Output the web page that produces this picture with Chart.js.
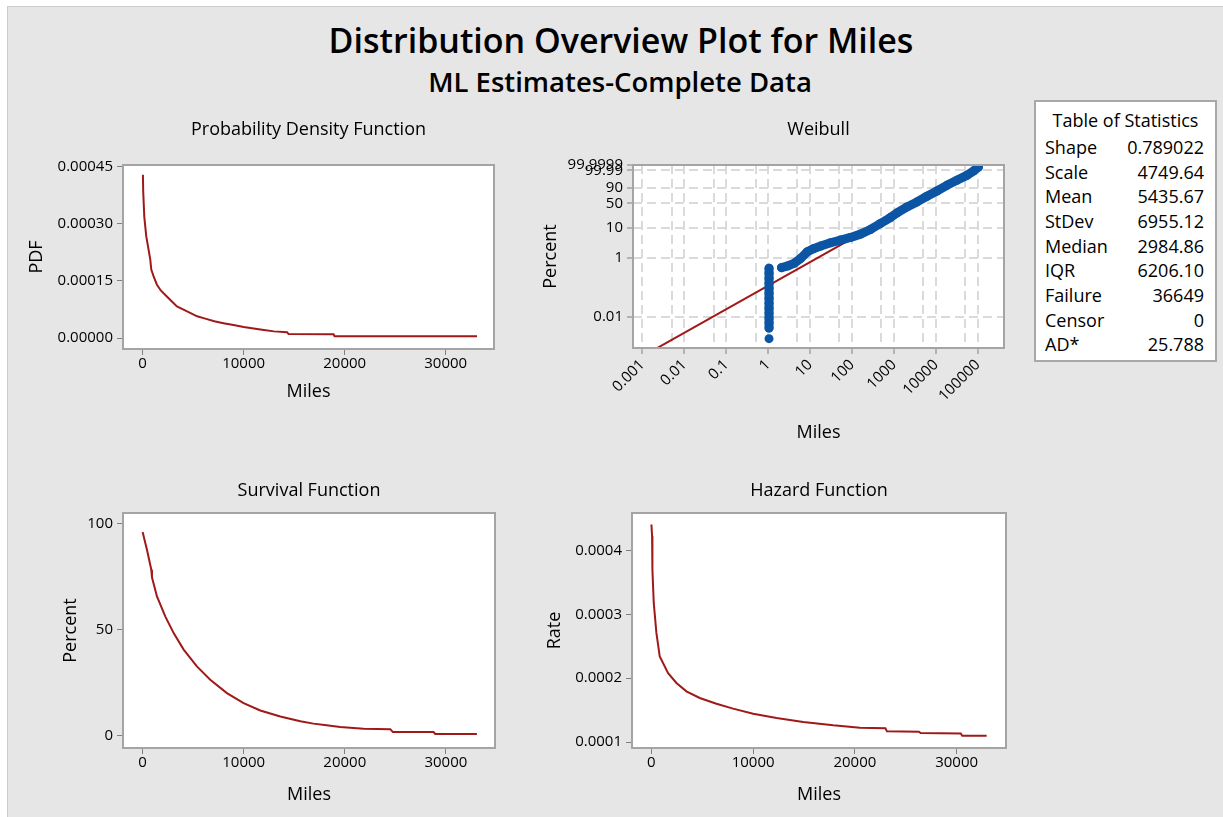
<!DOCTYPE html>
<html>
<head>
<meta charset="utf-8">
<title>Distribution Overview Plot for Miles</title>
<script src="https://cdn.jsdelivr.net/npm/chart.js@4.4.1/dist/chart.umd.min.js"></script>
<style>
  html, body { margin: 0; padding: 0; background: #fff; width: 1223px; height: 817px; overflow: hidden; }
  body { font-family: 'Open Sans', 'Noto Sans', sans-serif; color: #000; position: relative; }
  #sheet { position: absolute; left: 7px; top: 6px; width: 1216px; height: 811px; background: #e6e6e6;
           border-left: 1px solid #cccccc; border-top: 1px solid #cccccc; box-sizing: border-box; }
  .cv { position: absolute; }
  #title { position: absolute; left: 0; width: 1242px; top: 18px; line-height: 44px; text-align: center;
           font-size: 34px; font-weight: 600; }
  #subtitle { position: absolute; left: 0; width: 1240px; top: 65px; line-height: 34px; text-align: center;
              font-size: 27.5px; font-weight: 600; }
  #stats { position: absolute; left: 1034px; top: 100px; width: 183px; height: 262px; background: #fff;
           border: 2px solid #a8a8a8; box-sizing: border-box; font-size: 18px; }
  #stats .head { position: absolute; left: 0; width: 100%; top: 7px; line-height: 22px; text-align: center; }
  #stats .row { position: absolute; left: 9px; right: 11px; height: 22px; line-height: 22px; }
  #stats .row span:last-child { position: absolute; right: 0; }
</style>
</head>
<body>
<div id="sheet"></div>
<div id="title">Distribution Overview Plot for Miles</div>
<div id="subtitle">ML Estimates-Complete Data</div>

<canvas id="pdf" class="cv" width="480" height="300" style="left:20px;top:110px;width:480px;height:300px"></canvas>
<canvas id="wbl" class="cv" width="480" height="340" style="left:530px;top:110px;width:480px;height:340px"></canvas>
<canvas id="surv" class="cv" width="480" height="340" style="left:20px;top:470px;width:480px;height:340px"></canvas>
<canvas id="haz" class="cv" width="480" height="340" style="left:530px;top:470px;width:480px;height:340px"></canvas>

<div id="stats"><div class="head">Table of Statistics</div></div>

<script>
// ---- Probability density function of the fitted distribution ----
const pdfMiles  = [30, 60, 165, 363, 594, 760, 860, 1100, 1420, 1800, 2400, 2900, 3400, 4100, 4800, 5400,
                   6200, 7100, 8000, 9000, 10000, 11000, 12000, 13000, 14300, 14450, 18900, 19000, 33100];
const pdfValues = [0.000429, 0.000385, 0.000319, 0.000267, 0.000232, 0.000206, 0.000180, 0.000161, 0.000140,
                   0.000125, 0.000109, 0.000096, 0.000083, 0.000074, 0.000065, 0.000057, 0.000051, 0.000044,
                   0.000039, 0.000034, 0.000029, 0.000025, 0.000021, 0.0000175, 0.0000150, 0.0000105,
                   0.0000100, 0.0000047, 0.0000044];

// ---- Survival function (percent surviving) ----
const survMiles   = [0, 430, 860, 925, 1420, 2240, 3070, 4060, 5370, 6690, 8340, 9990, 11640, 13620, 15600,
                     16900, 18000, 19550, 21860, 24500, 24760, 28780, 28950, 33070];
const survPercent = [96.1, 87.7, 78.3, 74.7, 65.7, 56.3, 48.4, 40.6, 32.7, 26.4, 20.1, 15.4, 11.9, 9.1, 6.8,
                     5.7, 5.0, 4.1, 3.3, 3.1, 1.7, 1.7, 0.8, 0.8];

// ---- Hazard function (failure rate) ----
const hazMiles = [0, 66, 98, 230, 490, 820, 1640, 2460, 3440, 4750, 6390, 8030, 10000, 12300, 14920, 17870,
                  20490, 23000, 23150, 26300, 26450, 30400, 30550, 32950];
const hazRate  = [0.000441, 0.000423, 0.000370, 0.000318, 0.000271, 0.000234, 0.000208, 0.0001925, 0.0001795,
                  0.000169, 0.000160, 0.0001523, 0.0001444, 0.0001376, 0.0001314, 0.0001261, 0.0001225,
                  0.0001215, 0.0001167, 0.0001160, 0.0001141, 0.0001135, 0.0001099, 0.0001099];

// ---- Weibull probability plot ----
// observations recorded at about 1 mile
const wblStackMiles   = 1.05;
const wblStackPercent = [0.4396, 0.2981, 0.2023, 0.1373, 0.0932, 0.0632, 0.0428, 0.0291, 0.0197, 0.01338,
                         0.00907, 0.00616, 0.00417];
const wblLowMiles     = [1.05];
const wblLowPercent   = [0.00182];
// remaining observations
const wblBandMiles    = [2.08, 2.88, 4.15, 5.98, 8.61, 12.4, 17.9, 30.8, 53.3, 92.1, 159, 275, 475, 821, 1183,
                         2044, 3532, 6105, 10540, 18230, 31480, 54450, 78400, 103000];
const wblBandPercent  = [0.4625, 0.527, 0.647, 0.952, 1.592, 2.059, 2.461, 3.177, 3.894, 4.767, 6.133, 8.698,
                         13.49, 20.62, 28.22, 41.04, 54.10, 70.15, 83.96, 94.16, 98.49, 99.79, 99.982, 99.99925];
// fitted Weibull line (end points)
const wblFitMiles     = [0.0023, 130000];
const wblFitPercent   = [0.00089, 99.9999];

const wblXTicks      = [0.001, 0.005, 0.01, 0.05, 0.1, 0.5, 1, 5, 10, 50, 100, 500, 1000, 5000, 10000, 50000, 100000];
const wblXLabels     = ['0.001', '', '0.01', '', '0.1', '', '1', '', '10', '', '100', '', '1000', '', '10000', '', '100000'];
const wblYTicks      = [0.01, 1, 10, 50, 90, 99.99, 99.9999];
const wblYLabels     = ['0.01', '1', '10', '50', '90', '99.99', '99.9999'];

const milesTicks = [0, 10000, 20000, 30000];
const pdfTicks   = [0, 0.00015, 0.00030, 0.00045];
const survTicks  = [0, 50, 100];
const hazTicks   = [0.0001, 0.0002, 0.0003, 0.0004];

const statNames  = ['Shape', 'Scale', 'Mean', 'StDev', 'Median', 'IQR', 'Failure', 'Censor', 'AD*'];
const statValues = ['0.789022', '4749.64', '5435.67', '6955.12', '2984.86', '6206.10', '36649', '0', '25.788'];

// ---------------------------------------------------------------
const FONT = "'Open Sans', 'Noto Sans', sans-serif";
const CURVE = '#a01919';
const DOTS = '#0b55a4';
const TICK_SIZE = 15;
const AXIS_TITLE_SIZE = 18;

// statistics table
(function () {
  const box = document.getElementById('stats');
  const rowTop = [34, 59, 83, 108, 133, 157, 182, 207, 231];
  statNames.forEach((n, i) => {
    const r = document.createElement('div');
    r.className = 'row';
    r.style.top = rowTop[i] + 'px';
    r.innerHTML = '<span>' + n + '</span><span>' + statValues[i] + '</span>';
    box.appendChild(r);
  });
})();

// Weibull probability scale: linear in ln(-ln(1 - p))
const wtf = p => Math.log(-Math.log(1 - p / 100));
class WeibullScale extends Chart.LinearScale {
  determineDataLimits() { this.min = this.options.min; this.max = this.options.max; }
  buildTicks() { return []; }
  configure() {
    super.configure();
    this._wMin = wtf(this.min);
    this._wMax = wtf(this.max);
  }
  getPixelForValue(v) {
    if (v === null || v === undefined) return NaN;
    return this.getPixelForDecimal((wtf(v) - this._wMin) / (this._wMax - this._wMin));
  }
  getValueForPixel(px) {
    const w = this._wMin + this.getDecimalForPixel(px) * (this._wMax - this._wMin);
    return 100 * (1 - Math.exp(-Math.exp(w)));
  }
}
WeibullScale.id = 'weibull';
WeibullScale.defaults = {};
Chart.register(WeibullScale);

// white plotting area with a grey frame
const framePlugin = {
  id: 'frame',
  beforeDraw(c) {
    const a = c.chartArea, x = c.ctx;
    x.save(); x.fillStyle = '#fff'; x.fillRect(a.left, a.top, a.right - a.left, a.bottom - a.top); x.restore();
  },
  afterDraw(c) {
    const a = c.chartArea, x = c.ctx;
    x.save(); x.strokeStyle = '#a4a4a4'; x.lineWidth = 2;
    x.strokeRect(a.left, a.top, a.right - a.left, a.bottom - a.top); x.restore();
  }
};

Chart.defaults.font.family = FONT;
Chart.defaults.color = '#000';
Chart.defaults.animation = false;

const pts = (xs, ys) => xs.map((x, i) => ({ x, y: ys[i] }));

// panel heading, centred over the plotting area
function panelTitle(text, top, bottom) {
  return { display: true, fullSize: false, text, color: '#000',
           font: { family: FONT, size: 18, weight: 'normal' }, padding: { top, bottom } };
}

function xAxis(min, max, height, titlePad) {
  return {
    type: 'linear', min, max,
    afterBuildTicks: s => { s.ticks = milesTicks.map(v => ({ value: v })); },
    afterFit: s => { s.height = height; },
    grid: { drawOnChartArea: false, tickLength: 6, tickColor: '#808080', tickWidth: 1 },
    border: { display: false },
    ticks: { font: { size: TICK_SIZE }, color: '#000', padding: 0, maxRotation: 0, autoSkip: false,
             callback: v => String(v) },
    title: { display: true, text: 'Miles', color: '#000', font: { size: AXIS_TITLE_SIZE },
             padding: { top: 0, bottom: titlePad } }
  };
}

function yAxis(min, max, tickVals, fmt, width, label, titlePad) {
  return {
    type: 'linear', min, max,
    afterBuildTicks: s => { s.ticks = tickVals.map(v => ({ value: v })); },
    afterFit: s => { s.width = width; },
    grid: { drawOnChartArea: false, tickLength: 6, tickColor: '#808080', tickWidth: 1 },
    border: { display: false },
    ticks: { font: { size: TICK_SIZE }, color: '#000', padding: 4, autoSkip: false, callback: fmt },
    title: { display: true, text: label, color: '#000', font: { size: AXIS_TITLE_SIZE },
             padding: { top: titlePad, bottom: 0 } }
  };
}

function curveDataset(xs, ys) {
  return { data: pts(xs, ys), showLine: true, borderColor: CURVE, borderWidth: 2, pointRadius: 0,
           tension: 0, fill: false };
}

const common = {
  responsive: false, animation: false, events: [],
  plugins: { legend: { display: false }, tooltip: { enabled: false } }
};

// Probability Density Function
new Chart(document.getElementById('pdf'), {
  type: 'scatter',
  data: { datasets: [curveDataset(pdfMiles, pdfValues)] },
  options: Object.assign({}, common, {
    layout: { padding: { left: 0, right: 6, top: 0, bottom: 0 } },
    plugins: Object.assign({}, common.plugins, { title: panelTitle('Probability Density Function', 9.2, 24.2) }),
    scales: {
      x: xAxis(-1940, 34780, 61, 7.2),
      y: yAxis(-0.0000288, 0.0004545, pdfTicks, v => v.toFixed(5), 103, 'PDF', 6.2)
    }
  }),
  plugins: [framePlugin]
});

// Survival Function
new Chart(document.getElementById('surv'), {
  type: 'scatter',
  data: { datasets: [curveDataset(survMiles, survPercent)] },
  options: Object.assign({}, common, {
    layout: { padding: { left: 0, right: 5, top: 0, bottom: 0 } },
    plugins: Object.assign({}, common.plugins, { title: panelTitle('Survival Function', 10.2, 11.2) }),
    scales: {
      x: xAxis(-1940, 34860, 62, 4.2),
      y: yAxis(-5.8, 105.05, survTicks, v => String(v), 103, 'Percent', 40.2)
    }
  }),
  plugins: [framePlugin]
});

// Hazard Function
new Chart(document.getElementById('haz'), {
  type: 'scatter',
  data: { datasets: [curveDataset(hazMiles, hazRate)] },
  options: Object.assign({}, common, {
    layout: { padding: { left: 0, right: 4, top: 0, bottom: 0 } },
    plugins: Object.assign({}, common.plugins, { title: panelTitle('Hazard Function', 10.2, 11.2) }),
    scales: {
      x: xAxis(-1908, 34850, 62, 4.2),
      y: yAxis(0.0000906, 0.000459, hazTicks, v => v.toFixed(4), 102, 'Rate', 14)
    }
  }),
  plugins: [framePlugin]
});

// Weibull probability plot
const gridDash = [9, 5];
const majorX = new Set(wblXTicks.filter((v, i) => wblXLabels[i] !== ''));
new Chart(document.getElementById('wbl'), {
  type: 'scatter',
  data: {
    datasets: [
      { data: pts(wblBandMiles, wblBandPercent), showLine: true, borderColor: DOTS, borderWidth: 9,
        borderJoinStyle: 'round', borderCapStyle: 'round', pointRadius: 4.5, pointBorderWidth: 0,
        pointBackgroundColor: DOTS, tension: 0, order: 1 },
      { data: wblStackPercent.map(p => ({ x: wblStackMiles, y: p })), showLine: true, borderColor: DOTS,
        borderWidth: 9, borderCapStyle: 'round', pointRadius: 4.5, pointBorderWidth: 0,
        pointBackgroundColor: DOTS, order: 1 },
      { data: pts(wblLowMiles, wblLowPercent), pointRadius: 4.5, pointBorderWidth: 0,
        pointBackgroundColor: DOTS, order: 1 },
      { data: pts(wblFitMiles, wblFitPercent), showLine: true, borderColor: CURVE, borderWidth: 2,
        pointRadius: 0, tension: 0, order: 2 }
    ]
  },
  options: Object.assign({}, common, {
    layout: { padding: { left: 0, right: 6, top: 0, bottom: 0 } },
    plugins: Object.assign({}, common.plugins, { title: panelTitle('Weibull', 9.2, 24.2) }),
    scales: {
      x: {
        type: 'logarithmic', min: 0.000631, max: 419000,
        afterBuildTicks: s => { s.ticks = wblXTicks.map(v => ({ value: v })); },
        afterFit: s => { s.height = 102; },
        grid: { drawOnChartArea: true, color: '#dadada', lineWidth: 2, borderDash: gridDash,
                tickLength: 6, tickWidth: 1,
                tickColor: ctx => (ctx.tick && majorX.has(ctx.tick.value)) ? '#808080' : 'rgba(0,0,0,0)' },
        border: { display: false, dash: gridDash },
        ticks: { font: { size: TICK_SIZE }, color: '#000', padding: 2, autoSkip: false, minRotation: 45, maxRotation: 45,
                 callback: (v, i) => wblXLabels[i] },
        title: { display: true, text: 'Miles', color: '#000', font: { size: AXIS_TITLE_SIZE },
                 padding: { top: 0, bottom: 6.2 } }
      },
      y: {
        type: 'weibull', min: 0.00088, max: 99.999905,
        afterBuildTicks: s => { s.ticks = wblYTicks.map(v => ({ value: v })); },
        afterFit: s => { s.width = 103; },
        grid: { drawOnChartArea: true, color: '#dadada', lineWidth: 2, borderDash: gridDash,
                tickLength: 6, tickColor: '#808080', tickWidth: 1 },
        border: { display: false, dash: gridDash },
        ticks: { font: { size: TICK_SIZE }, color: '#000', padding: 4, autoSkip: false,
                 callback: (v, i) => wblYLabels[i] },
        title: { display: true, text: 'Percent', color: '#000', font: { size: AXIS_TITLE_SIZE },
                 padding: { top: 10, bottom: 0 } }
      }
    }
  }),
  plugins: [framePlugin]
});
</script>
</body>
</html>
